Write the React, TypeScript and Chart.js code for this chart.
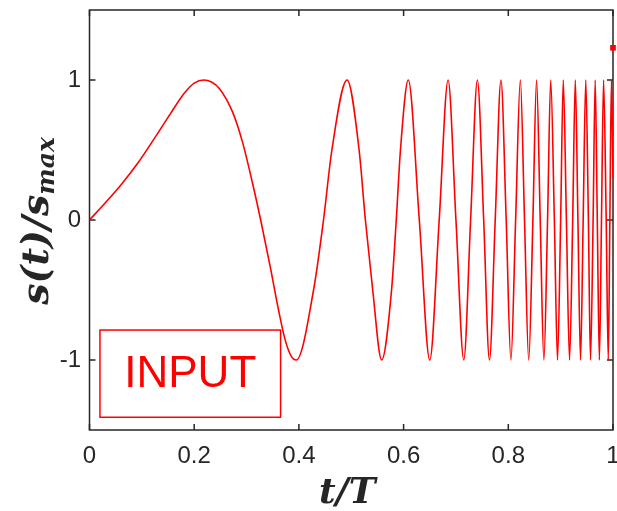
import React, { useEffect, useRef } from "react";
import { Chart, registerables } from "chart.js";

Chart.register(...registerables);

// Chirp signal (t/T, s/smax)
const T_VALUES = [
  0, 0.035, 0.06, 0.092, 0.124, 0.155, 0.181, 0.2, 0.2186,
  0.233, 0.248, 0.273, 0.292, 0.311, 0.327, 0.345, 0.3615, 0.374, 0.385, 0.395,
  0.428, 0.447, 0.463, 0.492,
  0.515, 0.527, 0.541, 0.558,
  0.577, 0.586, 0.594, 0.609,
  0.63, 0.65, 0.668, 0.685, 0.7, 0.715, 0.728, 0.741,
  0.753, 0.764, 0.775, 0.786, 0.796, 0.805, 0.814, 0.823,
  0.831, 0.839, 0.847, 0.854, 0.861, 0.868, 0.875, 0.881,
  0.888, 0.894, 0.9, 0.905, 0.911, 0.917, 0.923, 0.928,
  0.933, 0.938, 0.943, 0.948, 0.953, 0.957, 0.962, 0.966,
  0.97, 0.974, 0.978, 0.982, 0.987, 0.991, 0.994, 0.997, 1.0,
];
const S_VALUES = [
  0, 0.143, 0.25, 0.405, 0.583, 0.762, 0.905, 0.978, 1,
  0.986, 0.94, 0.774, 0.56, 0.27, 0, -0.33, -0.65, -0.86, -0.97, -1,
  -0.5, 0, 0.5, 1,
  0.5, 0, -0.5, -1,
  -0.5, 0, 0.5, 1,
  0, -1, 0, 1, 0, -1, 0, 1,
  0, -1, 0, 1, 0, -1, 0, 1,
  0, -1, 0, 1, 0, -1, 0, 1,
  0, -1, 0, 1, 0, -1, 0, 1,
  0, -1, 0, 1, 0, -1, 0, 1,
  0, -1, 0, 1, 0, -1, 0, 1, 0.3,
];

// small marker visible at the right edge
const MARK_T = [1.0];
const MARK_S = [1.23];

const X_TICKS = [0, 0.2, 0.4, 0.6, 0.8, 1];
const Y_TICKS = [-1, 0, 1];

const LINE_COLOR = "#ff0000";
const AXIS_COLOR = "#262626";
const TICK_FONT = "'Liberation Sans', Arial, Helvetica, sans-serif";
const MATH_FONT = "'DejaVu Serif', serif";

const decorPlugin = {
  id: "decor",
  beforeDatasetsDraw(chart: any) {
    const { ctx, chartArea: a, scales } = chart;
    const xs = scales.x;
    const ys = scales.y;
    ctx.save();
    ctx.strokeStyle = AXIS_COLOR;
    ctx.lineWidth = 1.5;
    ctx.strokeRect(a.left, a.top, a.right - a.left, a.bottom - a.top);
    ctx.beginPath();
    const tl = 6;
    X_TICKS.forEach((v) => {
      const px = xs.getPixelForValue(v);
      ctx.moveTo(px, a.bottom);
      ctx.lineTo(px, a.bottom - tl);
      ctx.moveTo(px, a.top);
      ctx.lineTo(px, a.top + tl);
    });
    Y_TICKS.forEach((v) => {
      const py = ys.getPixelForValue(v);
      ctx.moveTo(a.left, py);
      ctx.lineTo(a.left + tl, py);
      ctx.moveTo(a.right, py);
      ctx.lineTo(a.right - tl, py);
    });
    ctx.stroke();
    ctx.restore();
  },
  afterDatasetsDraw(chart: any) {
    const { ctx, chartArea: a, scales } = chart;
    const xs = scales.x;
    const ys = scales.y;
    ctx.save();
    // INPUT box
    const bx0 = xs.getPixelForValue(0.02);
    const bx1 = xs.getPixelForValue(0.365);
    const by0 = ys.getPixelForValue(-0.786);
    const by1 = ys.getPixelForValue(-1.409);
    ctx.strokeStyle = LINE_COLOR;
    ctx.lineWidth = 1.5;
    ctx.strokeRect(bx0, by0, bx1 - bx0, by1 - by0);
    ctx.fillStyle = LINE_COLOR;
    ctx.font = `44px ${TICK_FONT}`;
    ctx.textAlign = "center";
    ctx.textBaseline = "middle";
    ctx.fillText("INPUT", (bx0 + bx1) / 2, (by0 + by1) / 2 + 1);

    // x title
    ctx.fillStyle = AXIS_COLOR;
    ctx.font = `italic bold 36px ${MATH_FONT}`;
    ctx.textAlign = "center";
    ctx.textBaseline = "alphabetic";
    ctx.fillText("t/T", (a.left + a.right) / 2 - 4, 503);

    // y title, rotated
    ctx.translate(48, (a.top + a.bottom) / 2 + 1);
    ctx.rotate(-Math.PI / 2);
    const mainFont = `italic bold 38px ${MATH_FONT}`;
    const subFont = `italic bold 25px ${MATH_FONT}`;
    ctx.font = mainFont;
    const wMain = ctx.measureText("s(t)/s").width;
    ctx.font = subFont;
    const wSub = ctx.measureText("max").width;
    const total = wMain + wSub;
    ctx.textAlign = "left";
    ctx.font = mainFont;
    ctx.fillText("s(t)/s", -total / 2, 0);
    ctx.font = subFont;
    ctx.fillText("max", -total / 2 + wMain, 6);
    ctx.restore();
  },
};

export default function App() {
  const ref = useRef<HTMLCanvasElement | null>(null);

  useEffect(() => {
    document.body.style.margin = "0";
    const canvas = ref.current;
    if (!canvas) return;
    const chart = new Chart(canvas, {
      type: "line",
      data: {
        datasets: [
          {
            data: T_VALUES.map((t, i) => ({ x: t, y: S_VALUES[i] })),
            borderColor: LINE_COLOR,
            borderWidth: 1.6,
            pointRadius: 0,
            cubicInterpolationMode: "monotone",
            fill: false,
          },
          {
            data: MARK_T.map((t, i) => ({ x: t, y: MARK_S[i] })),
            showLine: false,
            pointStyle: "rect",
            pointRadius: 4,
            backgroundColor: LINE_COLOR,
            borderColor: LINE_COLOR,
            borderWidth: 0,
            clip: false,
          } as any,
        ],
      },
      plugins: [decorPlugin],
      options: {
        responsive: false,
        animation: false,
        devicePixelRatio: 1,
        layout: { padding: { left: 0, top: 10, right: 1, bottom: 0 } },
        plugins: { legend: { display: false }, tooltip: { enabled: false } },
        scales: {
          x: {
            type: "linear",
            min: 0,
            max: 1,
            grid: { display: false, drawTicks: false },
            border: { display: false },
            afterBuildTicks: (s: any) => {
              s.ticks = X_TICKS.map((v) => ({ value: v }));
            },
            afterFit: (s: any) => {
              s.height = 81;
              s.paddingLeft = 0;
              s.paddingRight = 0;
            },
            ticks: {
              padding: 12,
              color: AXIS_COLOR,
              font: { family: TICK_FONT, size: 24 },
              maxRotation: 0,
              autoSkip: false,
              callback: (v: any) => String(v),
            },
          },
          y: {
            type: "linear",
            min: -1.5,
            max: 1.5,
            grid: { display: false, drawTicks: false },
            border: { display: false },
            afterBuildTicks: (s: any) => {
              s.ticks = Y_TICKS.map((v) => ({ value: v }));
            },
            afterFit: (s: any) => {
              s.width = 89.5;
              s.paddingTop = 0;
              s.paddingBottom = 0;
            },
            ticks: {
              padding: 8.5,
              color: AXIS_COLOR,
              font: { family: TICK_FONT, size: 24 },
              autoSkip: false,
              callback: (v: any) => String(v),
            },
          },
        },
      } as any,
    });
    return () => chart.destroy();
  }, []);

  return (
    <canvas
      ref={ref}
      width={617}
      height={511}
      style={{ display: "block", width: 617, height: 511 }}
    />
  );
}
